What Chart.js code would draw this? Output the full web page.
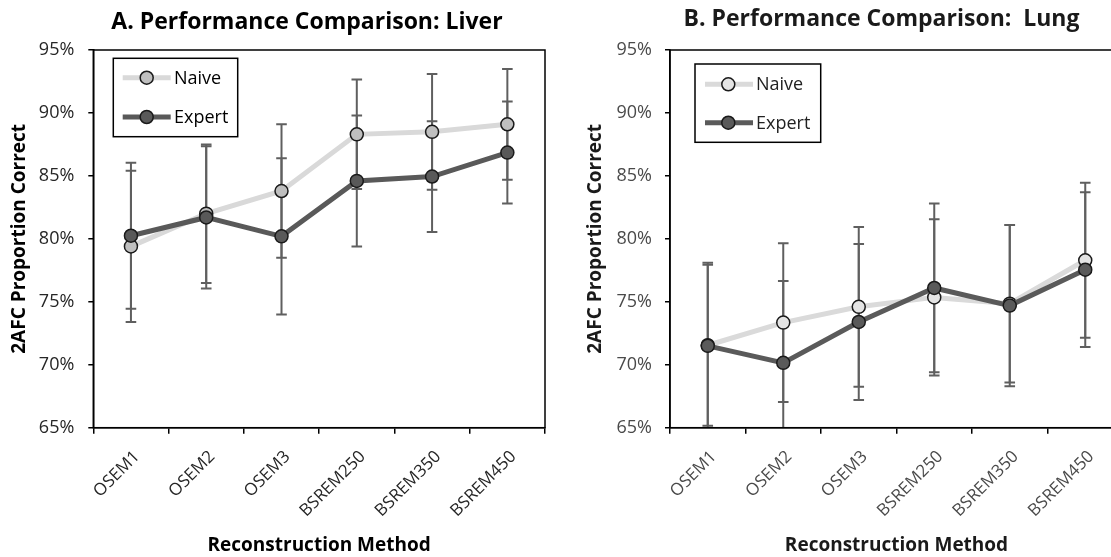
<!DOCTYPE html>
<html>
<head>
<meta charset="utf-8">
<script src="https://cdn.jsdelivr.net/npm/chart.js@4.4.1/dist/chart.umd.min.js"></script>
<style>
  html, body { margin: 0; padding: 0; background: #fff; overflow: hidden; }
  #wrap { position: relative; width: 1111px; height: 557px; overflow: hidden; background: #fff; }
  .panel { position: absolute; top: 0; }
  #liverPanel { left: 0; }
  #lungPanel { left: 560px; }
</style>
</head>
<body>
<div id="wrap">
  <div class="panel" id="liverPanel"><canvas id="liverChart" width="614" height="557"></canvas></div>
  <div class="panel" id="lungPanel"><canvas id="lungChart" width="643" height="557"></canvas></div>
</div>
<script>
// Reconstruction methods on the x axis
const methods = ['OSEM1', 'OSEM2', 'OSEM3', 'BSREM250', 'BSREM350', 'BSREM450'];
const seriesNames = ['Naive', 'Expert'];

// y axis (percent correct)
const yMin = 65;
const yMax = 95;
const yStep = 5;
const yTickLabels = ['65%', '70%', '75%', '80%', '85%', '90%', '95%'];

// Liver: 2AFC proportion correct (%) and error-bar half widths
const liverNaive = [79.4, 82.0, 83.8, 88.3, 88.5, 89.1];
const liverNaiveErr = [6.0, 5.5, 5.3, 4.35, 4.6, 4.4];
const liverExpert = [80.25, 81.7, 80.2, 84.6, 84.95, 86.85];
const liverExpertErr = [5.8, 5.65, 6.2, 5.2, 4.4, 4.05];

// Lung: 2AFC proportion correct (%) and error-bar half widths
const lungNaive = [71.55, 73.35, 74.6, 75.35, 74.85, 78.3];
const lungNaiveErr = [6.4, 6.3, 6.35, 6.2, 6.25, 6.15];
const lungExpert = [71.5, 70.15, 73.4, 76.1, 74.7, 77.55];
const lungExpertErr = [6.6, 6.5, 6.2, 6.7, 6.4, 6.15];

const FONT = '"Open Sans", "Noto Sans", "Liberation Sans", sans-serif';

// vertical error bars with caps, clipped to the plot area, drawn under the series
const errorBars = {
  id: 'errorBars',
  beforeDatasetsDraw(chart, args, o) {
    const { ctx, chartArea: a, scales: { x, y } } = chart;
    ctx.save();
    ctx.beginPath();
    ctx.rect(a.left, a.top, a.right - a.left, a.bottom - a.top);
    ctx.clip();
    ctx.strokeStyle = o.color;
    ctx.lineWidth = o.width;
    chart.data.datasets.forEach(ds => {
      if (!ds.errors) return;
      ds.data.forEach((v, i) => {
        const px = x.getPixelForValue(i);
        const hi = y.getPixelForValue(v + ds.errors[i]);
        const lo = y.getPixelForValue(v - ds.errors[i]);
        ctx.beginPath();
        ctx.moveTo(px, hi); ctx.lineTo(px, lo);
        ctx.moveTo(px - o.cap, hi); ctx.lineTo(px + o.cap, hi);
        ctx.moveTo(px - o.cap, lo); ctx.lineTo(px + o.cap, lo);
        ctx.stroke();
      });
    });
    ctx.restore();
  }
};

// closed frame around the plot area
const plotFrame = {
  id: 'plotFrame',
  afterDraw(chart, args, o) {
    const { ctx, chartArea: a } = chart;
    ctx.save();
    ctx.strokeStyle = o.color;
    ctx.lineWidth = o.width;
    ctx.strokeRect(a.left, a.top, a.right - a.left, a.bottom - a.top);
    ctx.restore();
  }
};

// boxed legend showing line + marker for each series
const boxLegend = {
  id: 'boxLegend',
  afterDraw(chart, args, o) {
    const { ctx, chartArea: a } = chart;
    const bx = a.left + o.dx, by = a.top + o.dy;
    ctx.save();
    ctx.fillStyle = '#fff';
    ctx.fillRect(bx, by, o.w, o.h);
    ctx.strokeStyle = o.frameColor;
    ctx.lineWidth = 1.5;
    ctx.strokeRect(bx, by, o.w, o.h);
    chart.data.datasets.forEach((ds, i) => {
      const cy = by + o.rows[i];
      ctx.strokeStyle = ds.borderColor;
      ctx.lineWidth = ds.borderWidth;
      ctx.beginPath();
      ctx.moveTo(bx + o.lineFrom, cy);
      ctx.lineTo(bx + o.lineTo, cy);
      ctx.stroke();
      ctx.beginPath();
      ctx.arc(bx + o.marker, cy, ds.pointRadius, 0, Math.PI * 2);
      ctx.fillStyle = ds.pointBackgroundColor;
      ctx.fill();
      ctx.lineWidth = ds.pointBorderWidth;
      ctx.strokeStyle = ds.pointBorderColor;
      ctx.stroke();
      ctx.fillStyle = o.textColor;
      ctx.font = o.font;
      ctx.textBaseline = 'middle';
      ctx.textAlign = 'left';
      ctx.fillText(ds.label, bx + o.text, cy + 1);
    });
    ctx.restore();
  }
};

function buildPanel(canvasId, s) {
  const series = [
    { label: seriesNames[0], data: s.naive, errors: s.naiveErr,
      borderColor: s.naiveLine, backgroundColor: s.naiveFill,
      pointBackgroundColor: s.naiveFill, pointBorderColor: s.edge, order: 1 },
    { label: seriesNames[1], data: s.expert, errors: s.expertErr,
      borderColor: s.expertLine, backgroundColor: s.expertFill,
      pointBackgroundColor: s.expertFill, pointBorderColor: s.edge, order: 0 }
  ].map(d => Object.assign(d, {
    borderWidth: 5, tension: 0, fill: false,
    pointRadius: 6.5, pointBorderWidth: 1.5, pointHoverRadius: 6.5
  }));

  return new Chart(document.getElementById(canvasId), {
    type: 'line',
    data: { labels: methods, datasets: series },
    options: {
      responsive: false,
      animation: false,
      devicePixelRatio: 1,
      layout: { padding: 0 },
      plugins: {
        legend: { display: false },
        tooltip: { enabled: false },
        title: {
          display: true, text: s.title, color: s.titleColor,
          font: { family: FONT, size: 23, weight: 'bold' },
          padding: { top: s.titleTop, bottom: s.titleBottom }
        },
        errorBars: { color: '#5f5f5f', width: 2, cap: 5.3 },
        plotFrame: { color: '#000', width: 1.5 },
        boxLegend: Object.assign({ frameColor: '#000', textColor: s.legendText,
          font: '18px ' + FONT }, s.legend)
      },
      scales: {
        x: {
          type: 'category',
          offset: true,
          grid: { offset: true, drawOnChartArea: false, drawTicks: true, tickLength: 6,
                  color: '#000', lineWidth: 1.5 },
          border: { display: true, color: '#000', width: 1.5 },
          ticks: { autoSkip: false, minRotation: 45, maxRotation: 45, padding: s.xTickPad,
                   labelOffset: 6, color: s.tickColor, font: { family: FONT, size: 17 } },
          title: { display: true, text: 'Reconstruction Method', color: s.titleColor,
                   font: { family: FONT, size: 19, weight: 'bold' },
                   padding: { top: 0, bottom: 0.5 } },
          afterFit: sc => { sc.height = s.xAxisHeight; }
        },
        y: {
          min: yMin, max: yMax,
          grid: { drawOnChartArea: false, drawTicks: true, tickLength: 5,
                  color: '#000', lineWidth: 1.5 },
          border: { display: true, color: '#000', width: 1.5 },
          ticks: { stepSize: yStep, padding: s.yTickPad, color: s.tickColor,
                   font: { family: FONT, size: 18 },
                   callback: (v, i) => yTickLabels[i] },
          title: { display: true, text: '2AFC Proportion Correct', color: s.titleColor,
                   font: { family: FONT, size: 19, weight: 'bold' },
                   padding: { top: s.yTitlePad, bottom: 0 } },
          afterFit: sc => { sc.width = s.yAxisWidth; }
        },
        // blank margin on the right of the plot; keeps the title centred on the whole panel
        yMargin: {
          position: 'right', min: yMin, max: yMax,
          ticks: { display: false },
          grid: { display: false, drawTicks: false },
          border: { display: false },
          afterFit: sc => { sc.width = s.rightGap; }
        }
      }
    },
    plugins: [errorBars, plotFrame, boxLegend]
  });
}

buildPanel('liverChart', {
  title: 'A. Performance Comparison: Liver',
  naive: liverNaive, naiveErr: liverNaiveErr,
  expert: liverExpert, expertErr: liverExpertErr,
  naiveLine: '#d9d9d9', naiveFill: '#bfbfbf',
  expertLine: '#595959', expertFill: '#595959', edge: '#1a1a1a',
  titleColor: '#000', tickColor: '#262626', legendText: '#000',
  rightGap: 69, yAxisWidth: 93.3, xAxisHeight: 129.3,
  titleTop: 9, titleBottom: 13.4, yTitlePad: 8.4, yTickPad: 14, xTickPad: 13,
  legend: { dx: 20, dy: 8.3, w: 124.4, h: 78.4, rows: [19.4, 58.7],
            lineFrom: 9.4, lineTo: 57.4, marker: 33.4, text: 60.7 }
});

buildPanel('lungChart', {
  title: 'B. Performance Comparison:  Lung',
  naive: lungNaive, naiveErr: lungNaiveErr,
  expert: lungExpert, expertErr: lungExpertErr,
  naiveLine: '#dadada', naiveFill: '#e4e4e4',
  expertLine: '#5a5a5a', expertFill: '#5a5a5a', edge: '#1a1a1a',
  titleColor: '#1a1a1a', tickColor: '#4a4a4a', legendText: '#222',
  rightGap: 80, yAxisWidth: 110, xAxisHeight: 129.3,
  titleTop: 5.5, titleBottom: 16.9, yTitlePad: 24.4, yTickPad: 13, xTickPad: 13,
  legend: { dx: 25, dy: 14, w: 125.7, h: 78.3, rows: [20.3, 58.7],
            lineFrom: 10, lineTo: 58, marker: 33.3, text: 61 }
});
</script>
</body>
</html>
